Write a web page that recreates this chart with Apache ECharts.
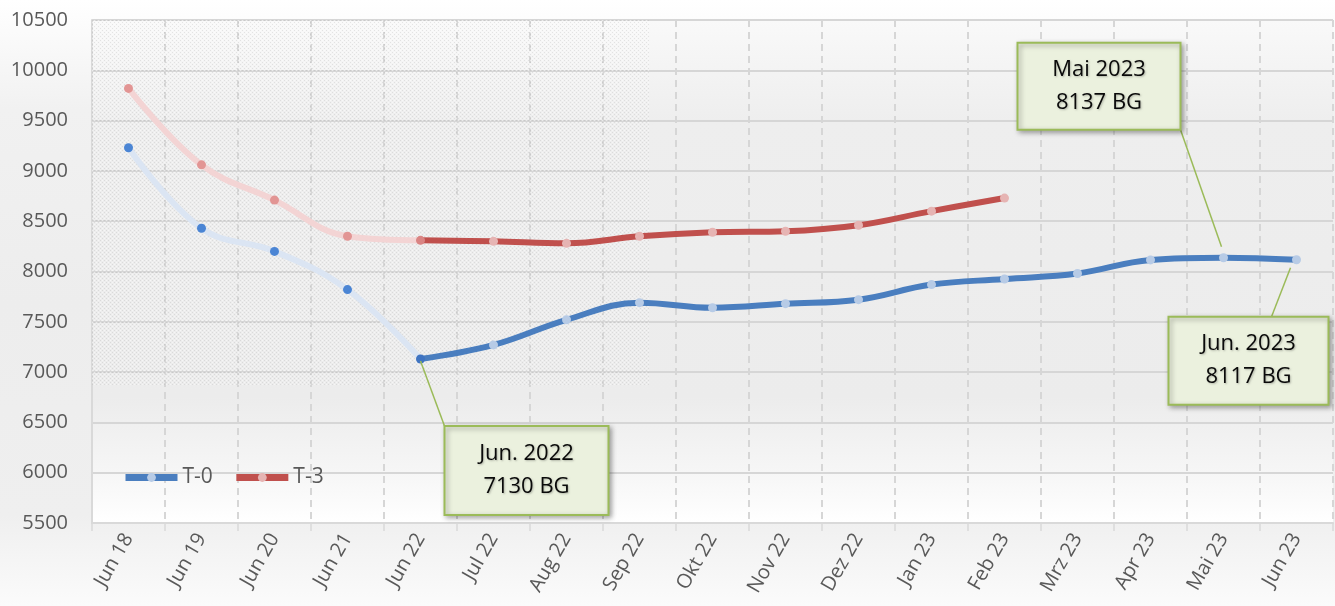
<!DOCTYPE html>
<html>
<head>
<meta charset="utf-8">
<script src="https://cdn.jsdelivr.net/npm/echarts@6/dist/echarts.min.js"></script>
<style>
html,body{margin:0;padding:0;background:#fff;}
#c{width:1335px;height:606px;}
</style>
</head>
<body>
<div id="c"></div>
<script>
// ---- data ----
var categories = ['Jun 18','Jun 19','Jun 20','Jun 21','Jun 22','Jul 22','Aug 22','Sep 22','Okt 22','Nov 22','Dez 22','Jan 23','Feb 23','Mrz 23','Apr 23','Mai 23','Jun 23'];
var t0Values = [9230, 8430, 8200, 7820, 7130, 7270, 7520, 7690, 7640, 7680, 7720, 7870, 7925, 7980, 8115, 8137, 8117];
var t3Values = [9820, 9060, 8710, 8350, 8310, 8300, 8280, 8350, 8390, 8400, 8460, 8600, 8730, null, null, null, null];
var histCount = 5; // Jun 18 .. Jun 22 drawn faded
var yTicks = {min: 5500, max: 10500, interval: 500};
var annotations = [
  {cat: 'Jun 22', value: 7130, text: 'Jun. 2022\n7130 BG'},
  {cat: 'Mai 23', value: 8137, text: 'Mai 2023\n8137 BG'},
  {cat: 'Jun 23', value: 8117, text: 'Jun. 2023\n8117 BG'}
];
var shadedUntil = {cat: 'Sep 22', value: 6870};

// ---- helpers ----
function histPart(arr){ return arr.map(function(v,i){ return i < histCount ? v : null; }); }
function mainPart(arr){ return arr.map(function(v,i){ return i >= histCount-1 ? v : null; }); }

var FONT = '"Open Sans", sans-serif';

// dotted texture
var pc = document.createElement('canvas');
pc.width = 4; pc.height = 4;
var pctx = pc.getContext('2d');
pctx.fillStyle = 'rgba(150,150,150,0.2)';
pctx.fillRect(0,0,1,1); pctx.fillRect(2,2,1,1);
pctx.fillStyle = 'rgba(255,255,255,0.5)';
pctx.fillRect(2,0,1,1); pctx.fillRect(0,2,1,1);

var chart = echarts.init(document.getElementById('c'), null, {renderer: 'canvas'});

function t0Main(){
  return mainPart(t0Values).map(function(v,i){
    if (v === null) return null;
    if (i === histCount-1) return {value: v, itemStyle: {color: '#3f74c2'}};
    return v;
  });
}
function t3Main(){
  return mainPart(t3Values).map(function(v,i){
    if (v === null) return null;
    if (i === histCount-1) return {value: v, itemStyle: {color: '#d98483'}};
    return v;
  });
}
function histData(arr){
  return histPart(arr).map(function(v,i){
    if (v === null) return null;
    if (i === histCount-1) return {value: v, symbol: 'none'};
    return v;
  });
}

var option = {
  animation: false,
  backgroundColor: {
    type: 'linear', x: 0, y: 0, x2: 0, y2: 1,
    colorStops: [
      {offset: 0, color: '#ffffff'},
      {offset: 0.18, color: '#f1f1f1'},
      {offset: 0.5, color: '#ededed'},
      {offset: 0.85, color: '#efefef'},
      {offset: 1, color: '#fbfbfb'}
    ]
  },
  grid: {
    left: 92, right: 2, top: 20, bottom: 83,
    show: true, borderWidth: 0,
    backgroundColor: {
      type: 'linear', x: 0, y: 0, x2: 0, y2: 1,
      colorStops: [
        {offset: 0, color: '#f9f9f9'},
        {offset: 0.2, color: '#eeeeee'},
        {offset: 0.75, color: '#ececec'},
        {offset: 0.9, color: '#f6f6f6'},
        {offset: 1, color: '#ffffff'}
      ]
    }
  },
  legend: {
    data: ['T-0', 'T-3'],
    left: 117, top: 462,
    itemWidth: 52, itemHeight: 11, itemGap: 20,
    lineStyle: {width: 7},
    textStyle: {fontFamily: FONT, fontSize: 21, color: '#595959'}
  },
  xAxis: {
    type: 'category',
    data: categories,
    boundaryGap: true,
    axisLine: {show: true, lineStyle: {color: '#d9d9d9', width: 2}},
    axisTick: {show: true, length: 8, lineStyle: {color: '#d9d9d9', width: 1.5}},
    axisLabel: {rotate: 60, margin: 12, fontFamily: FONT, fontSize: 20, color: '#595959', interval: 0},
    splitLine: {show: true, lineStyle: {color: '#d6d6d6', width: 2, type: [7, 5]}}
  },
  yAxis: {
    type: 'value',
    min: yTicks.min, max: yTicks.max, interval: yTicks.interval,
    axisLine: {show: true, lineStyle: {color: '#d9d9d9', width: 2}},
    axisTick: {show: false},
    axisLabel: {margin: 24, fontFamily: FONT, fontSize: 20, color: '#595959',
                formatter: function(v){ return String(v); }},
    splitLine: {show: true, lineStyle: {color: '#d6d6d6', width: 2}}
  },
  series: [
    {
      name: 'T-0 hist', type: 'line', smooth: 0.4, data: histData(t0Values),
      symbol: 'circle', symbolSize: 9, z: 2,
      lineStyle: {color: '#dbe5f3', width: 6},
      itemStyle: {color: '#4b85d4'}
    },
    {
      name: 'T-3 hist', type: 'line', smooth: 0.4, data: histData(t3Values),
      symbol: 'circle', symbolSize: 9, z: 2,
      lineStyle: {color: '#f3d4d4', width: 6},
      itemStyle: {color: '#e29594'}
    },
    {
      name: 'T-0', type: 'line', smooth: 0.4, data: t0Main(),
      symbol: 'circle', symbolSize: 9, z: 3,
      lineStyle: {color: '#4a7ebf', width: 6},
      itemStyle: {color: '#b7cbe6'}
    },
    {
      name: 'T-3', type: 'line', smooth: 0.4, data: t3Main(),
      symbol: 'circle', symbolSize: 9, z: 3,
      lineStyle: {color: '#c0504d', width: 6},
      itemStyle: {color: '#e6b4b3'}
    }
  ]
};
chart.setOption(option);

// ---- overlays positioned through the chart's own scales ----
var boxLayouts = [
  {bx: 24, by: 67, w: 164, h: 89, lx: 24, ly: 67, px: 0, py: 2},
  {bx: -206, by: -215, w: 163, h: 87, lx: -43, ly: -128, px: -2, py: -11},
  {bx: -128, by: 57, w: 160, h: 88, lx: -25, ly: 57, px: -6, py: 8}
];
var g = [];
var tl = chart.convertToPixel({xAxisIndex: 0, yAxisIndex: 0}, [shadedUntil.cat, shadedUntil.value]);
var gridLeft = chart.convertToPixel({xAxisIndex: 0, yAxisIndex: 0}, [0, yTicks.max]);
var bandHalf = (chart.convertToPixel({xAxisIndex: 0}, categories[1]) - chart.convertToPixel({xAxisIndex: 0}, categories[0])) / 2;
var leftX = gridLeft[0] - bandHalf;
g.push({
  type: 'rect', z: 1, silent: true,
  shape: {x: leftX, y: gridLeft[1], width: tl[0] + 10 - leftX, height: tl[1] - gridLeft[1]},
  style: {fill: {image: pc, repeat: 'repeat'}}
});
annotations.forEach(function(a, i){
  var p = chart.convertToPixel({xAxisIndex: 0, yAxisIndex: 0}, [a.cat, a.value]);
  var L = boxLayouts[i];
  g.push({
    type: 'line', z: 50, silent: true,
    shape: {x1: p[0] + L.px, y1: p[1] + L.py, x2: p[0] + L.lx, y2: p[1] + L.ly},
    style: {stroke: '#9bbb59', lineWidth: 1.5}
  });
  g.push({
    type: 'rect', z: 51, silent: true,
    shape: {x: p[0] + L.bx, y: p[1] + L.by, width: L.w, height: L.h},
    style: {fill: '#ebf1de', stroke: '#9bbb59', lineWidth: 2,
            shadowBlur: 5, shadowOffsetX: 2, shadowOffsetY: 2, shadowColor: 'rgba(0,0,0,0.35)'}
  });
  g.push({
    type: 'text', z: 52, silent: true,
    x: p[0] + L.bx + L.w / 2, y: p[1] + L.by + L.h / 2,
    style: {text: a.text, fill: '#0a0a0a', font: '22px ' + FONT, align: 'center', verticalAlign: 'middle',
            lineHeight: 33, textShadowColor: 'rgba(0,0,0,0.25)', textShadowBlur: 2, textShadowOffsetX: 1, textShadowOffsetY: 1}
  });
});
chart.setOption({graphic: g});
</script>
</body>
</html>
